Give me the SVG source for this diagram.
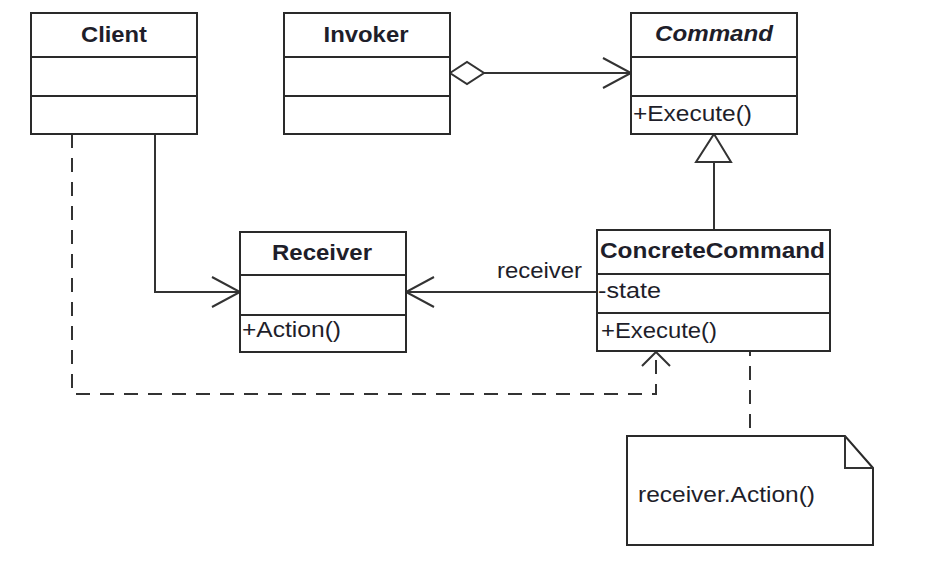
<svg xmlns="http://www.w3.org/2000/svg" width="940" height="578" viewBox="0 0 940 578">
<style>
.box{fill:#fff;stroke:#2a2a2a;stroke-width:2}
.div{stroke:#2a2a2a;stroke-width:2}
.t{font-family:"Liberation Sans",Arial,sans-serif;font-size:22px;fill:#1e1e2a}
.b{font-weight:bold}
.c{text-anchor:middle}
.ln{fill:none;stroke:#333;stroke-width:2}
.dash{stroke-dasharray:14 10}
</style>
<defs>
<marker id="open" markerUnits="userSpaceOnUse" markerWidth="34" markerHeight="34" viewBox="-31 -17 34 34" refX="0" refY="0" orient="auto" overflow="visible">
<path d="M-28 -15 L0 0 L-28 15" fill="none" stroke="#333" stroke-width="2"/>
</marker>
<marker id="openSmall" markerUnits="userSpaceOnUse" markerWidth="34" markerHeight="34" viewBox="-31 -17 34 34" refX="0" refY="0" orient="auto" overflow="visible">
<path d="M-14 -14 L0 0 L-14 14" fill="none" stroke="#333" stroke-width="2"/>
</marker>
</defs>
<g id="connectors">
<path class="ln" d="M484 73 H631" marker-end="url(#open)"/>
<path d="M450 73 L467 62 L484 73 L467 84 Z" fill="#fff" stroke="#333" stroke-width="2"/>
<path class="ln" d="M714 230 V162"/>
<path d="M714 134 L731 162 L696 162 Z" fill="#fff" stroke="#333" stroke-width="2"/>
<path class="ln" d="M597 292 H406" marker-end="url(#open)"/>
<path class="ln" d="M155 134 V292 H240" marker-end="url(#open)"/>
<path class="ln dash" d="M72 134 V394 H656 V352" marker-end="url(#openSmall)"/>
<path class="ln dash" d="M750 342 V436"/>
<text class="t" x="497" y="278" textLength="85" lengthAdjust="spacingAndGlyphs">receiver</text>
</g>
<g id="Client">
<rect class="box" x="31" y="13" width="166" height="121"/>
<line class="div" x1="31" y1="57" x2="197" y2="57"/>
<line class="div" x1="31" y1="96" x2="197" y2="96"/>
<text class="t b c" x="114" y="42" textLength="66" lengthAdjust="spacingAndGlyphs">Client</text>
</g>
<g id="Invoker">
<rect class="box" x="284" y="13" width="166" height="121"/>
<line class="div" x1="284" y1="57" x2="450" y2="57"/>
<line class="div" x1="284" y1="96" x2="450" y2="96"/>
<text class="t b c" x="366" y="42" textLength="85" lengthAdjust="spacingAndGlyphs">Invoker</text>
</g>
<g id="Command">
<rect class="box" x="631" y="13" width="166" height="121"/>
<line class="div" x1="631" y1="57" x2="797" y2="57"/>
<line class="div" x1="631" y1="96" x2="797" y2="96"/>
<text class="t b c" x="714" y="41" font-style="italic" textLength="118" lengthAdjust="spacingAndGlyphs">Command</text>
<text class="t" x="633" y="121" textLength="119" lengthAdjust="spacingAndGlyphs">+Execute()</text>
</g>
<g id="Receiver">
<rect class="box" x="240" y="232" width="166" height="120"/>
<line class="div" x1="240" y1="275" x2="406" y2="275"/>
<line class="div" x1="240" y1="315" x2="406" y2="315"/>
<text class="t b c" x="322" y="260" textLength="100" lengthAdjust="spacingAndGlyphs">Receiver</text>
<text class="t" x="242" y="337" textLength="99" lengthAdjust="spacingAndGlyphs">+Action()</text>
</g>
<g id="ConcreteCommand">
<rect class="box" x="597" y="230" width="233" height="121"/>
<line class="div" x1="597" y1="274" x2="830" y2="274"/>
<line class="div" x1="597" y1="313" x2="830" y2="313"/>
<text class="t b" x="600" y="258" textLength="225" lengthAdjust="spacingAndGlyphs">ConcreteCommand</text>
<text class="t" x="598" y="298" textLength="63" lengthAdjust="spacingAndGlyphs">-state</text>
<text class="t" x="601" y="338" textLength="116" lengthAdjust="spacingAndGlyphs">+Execute()</text>
</g>
<g id="Note">
<path class="box" d="M627 436 H845 L873 468 V545 H627 Z"/>
<path class="ln" d="M845 436 V468 H873"/>
<text class="t" x="638" y="502" textLength="177" lengthAdjust="spacingAndGlyphs">receiver.Action()</text>
</g>
</svg>
